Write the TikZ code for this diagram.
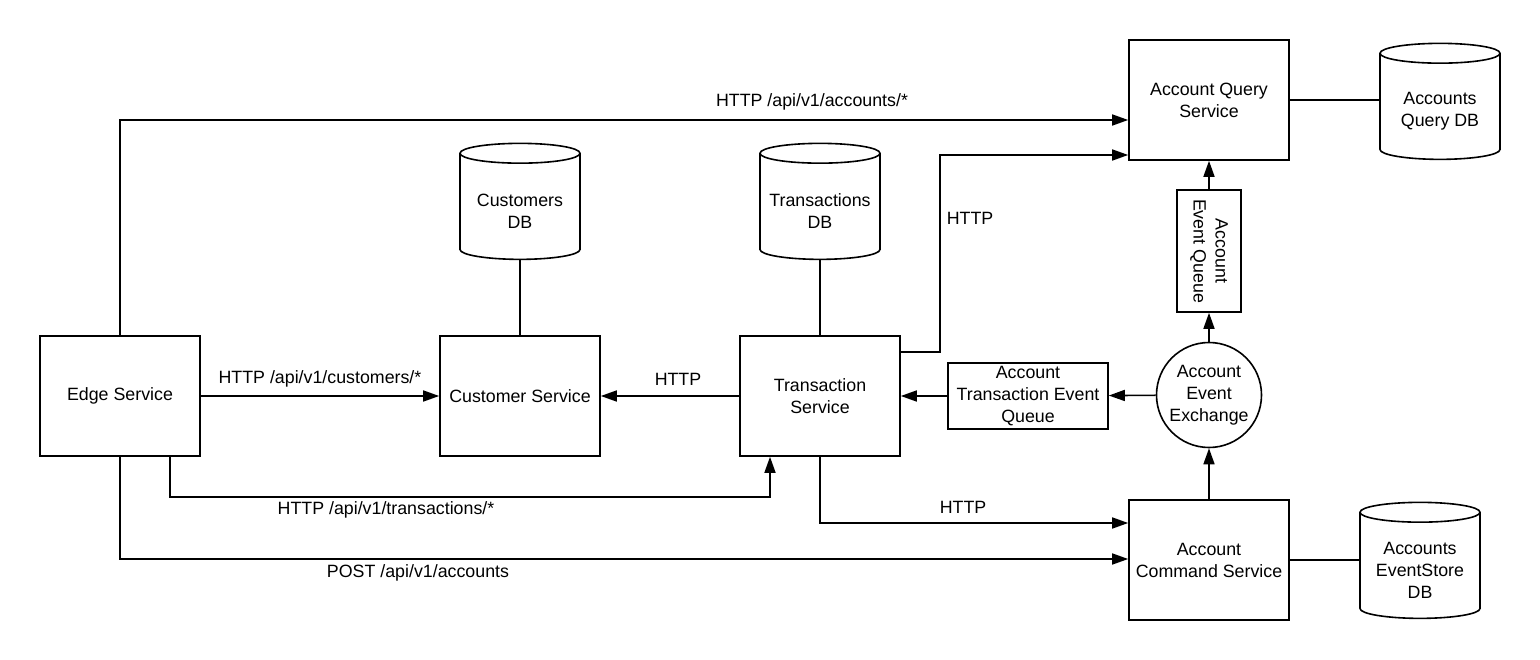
\documentclass[tikz,border=0pt]{standalone}
\usepackage{fontspec}
\setmainfont{Liberation Sans}
\usetikzlibrary{arrows.meta,shapes.geometric}
\tikzset{
    svc/.style={draw, rectangle, minimum width=160pt, minimum height=120pt,
    	align=center},
    db/.style={draw, cylinder, shape border rotate=90, aspect=0.33,
    	inner sep=30pt, minimum width=120pt, minimum height=116pt},
    dbtext/.style={align=center},
    queue/.style={draw, rectangle, align=center, inner sep=0pt},
    link/.style={-{Triangle[length=16pt,width=11pt]}}
}

\begin{document}
\begin{tikzpicture}[x=1pt, y=-1pt, line width=1.6pt,
    font=\fontsize{17.8}{22}\selectfont]
  \useasboundingbox (0,0) rectangle (1540,660);
  \node (edge_s) [svc] at (120, 396) {Edge Service};
  \node (cust_s) [svc] at (520, 396) {Customer Service};
  \node (trans_s) [svc] at (820, 396) {Transaction\\Service};
  \node (accq_s) [svc] at (1209, 100) {Account Query\\Service};
  \node (accc_s) [svc] at (1209, 560) {Account\\Command Service};
  \node (cust_db) [db, label={[dbtext]center:{Customers\\DB}}] at (520, 211) {};
  \node (trans_db) [db, label={[dbtext]center:{Transactions\\DB}}] at (820, 211) {};
  \node (accq_db) [db, label={[dbtext]center:{Accounts\\Query DB}}] at (1440, 111) {};
  \node (accc_db) [db, label={[dbtext]center:{Accounts\\EventStore\\DB}}] at (1420, 570) {};
  \node (ev_x) [draw, circle, minimum size=105pt, inner sep=0pt, align=center]
    at (1209, 395) {Account\\Event\\Exchange};
  \node (ev_q) [queue, rotate=-90, minimum width=122pt, minimum height=64pt]
    at (1209, 251) {Account\\Event Queue};
  \node (tev_q) [queue, minimum width=160pt, minimum height=66pt]
    at (1028, 396) {Account\\Transaction Event\\Queue};
  \coordinate (q_bend) at (940, 155);

  \node (l_acc) at (812, 102) {HTTP /api/v1/accounts/*};
  \node (l_cust) at (320, 379) {HTTP /api/v1/customers/*};
  \node (l_tc) at (678, 379) {HTTP};
  \node (l_tq) at (970, 218) {HTTP};
  \node (l_trans) at (386, 510) {HTTP /api/v1/transactions/*};
  \node (l_post) at (418, 573) {POST /api/v1/accounts};
  \node (l_ta) at (963, 507) {HTTP};

  \draw [link] (edge_s.north) |- ([yshift=-20pt]accq_s.west);
  \draw [link] (edge_s) -- (cust_s);
  \draw [link] ([xshift=50pt]edge_s.south) -- ++(0, 40)
    -| ([xshift=-50pt]trans_s.south);
  \draw [link] (edge_s.south) |- ([yshift=1pt]accc_s.west);
  \draw (cust_s) -- (cust_db);
  \draw (trans_s) -- (trans_db);
  \draw [link] (trans_s) -- (cust_s);
  \draw [link] ([yshift=44pt]trans_s.east) -| (q_bend)
    -- ([yshift=-55pt]accq_s.west);
  \draw [link] (trans_s.south) |- ([yshift=37pt]accc_s.west);
  \draw (accq_s.east) -- (accq_s.east -| accq_db.west);
  \draw (accc_s.east) -- (accc_s.east -| accc_db.west);
  \draw [link] (accc_s) -- (ev_x);
  \draw [link] (ev_x) -- (ev_q);
  \draw [link] (ev_q) -- (accq_s);
  \draw [link] (ev_x) -- (tev_q);
  \draw [link] (tev_q) -- (trans_s);
\end{tikzpicture}
\end{document}
